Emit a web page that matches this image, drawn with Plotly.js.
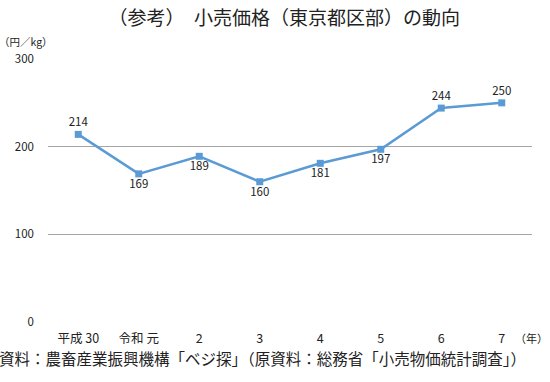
<!DOCTYPE html>
<html><head><meta charset="utf-8">
<script src="https://cdn.plot.ly/plotly-3.0.1.min.js"></script>
<style>html,body{margin:0;padding:0;background:#fff}#c{width:550px;height:382px}</style>
</head><body><div id="c"></div>
<script>
const categories = ["平成 30", "令和 元", "2", "3", "4", "5", "6", "7"];
const prices = [214, 169, 189, 160, 181, 197, 244, 250];
const labelPos = ["top center", "bottom center", "bottom center", "bottom center", "bottom center", "bottom center", "top center", "top center"];
const yTicks = [0, 100, 200, 300];

const xs = categories.map((c, i) => i);
const font = "Noto Sans CJK JP, Noto Sans, sans-serif";

Plotly.newPlot("c", [{
  x: xs, y: prices, type: "scatter", mode: "lines+markers+text",
  text: prices.map(String), textposition: labelPos,
  textfont: {family: font, size: 11.5, color: "#222"},
  line: {color: "#5B9BD5", width: 2.5},
  marker: {symbol: "square", size: 7, color: "#5B9BD5"},
  cliponaxis: false, hoverinfo: "skip"
}], {
  width: 550, height: 382,
  margin: {l: 48, r: 18, t: 59, b: 60},
  paper_bgcolor: "#fff", plot_bgcolor: "#fff",
  showlegend: false,
  title: {text: "（参考）　小売価格（東京都区部）の動向", font: {family: font, size: 19, color: "#222"}, xref: "paper", x: 0.488, xanchor: "center", y: 0.953, yanchor: "middle"},
  xaxis: {range: [-0.5, 7.5], tickvals: xs, ticktext: categories, showgrid: false, zeroline: false, showline: false, ticks: "",
          tickfont: {family: font, size: 12.5, color: "#222"}, ticklabelstandoff: 7, fixedrange: true},
  yaxis: {range: [0, 300], tickvals: yTicks, showgrid: true, gridcolor: "#a6a6a6", gridwidth: 1, zeroline: false, showline: false, ticks: "",
          tickfont: {family: font, size: 11.5, color: "#222"}, ticklabelstandoff: 13, fixedrange: true},
  annotations: [
    {text: "（円／kg）", xref: "paper", yref: "paper", x: -0.105, y: 1.065, xanchor: "left", yanchor: "middle", showarrow: false, font: {family: font, size: 10.5, color: "#222"}},
    {text: "（年）", xref: "paper", yref: "paper", x: 1.037, y: -0.06, xanchor: "right", yanchor: "middle", showarrow: false, font: {family: font, size: 11, color: "#222"}},
    {text: "資料：農畜産業振興機構「ベジ探」（原資料：総務省「小売物価統計調査」）", xref: "paper", yref: "paper", x: -0.105, y: -0.135, xanchor: "left", yanchor: "middle", showarrow: false, font: {family: font, size: 15.5, color: "#222"}}
  ]
}, {displayModeBar: false, staticPlot: true});
</script></body></html>
